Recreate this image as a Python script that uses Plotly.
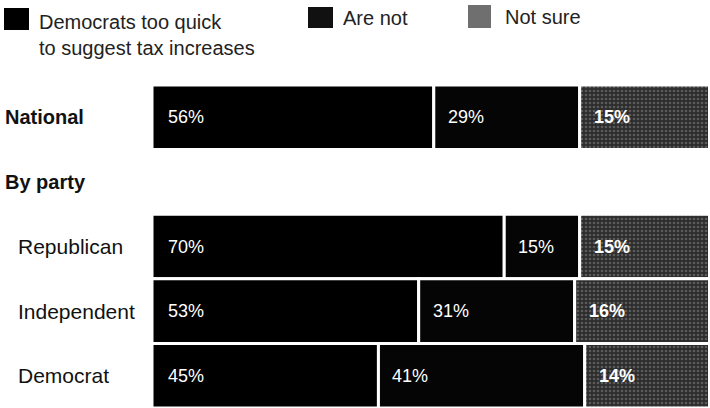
import plotly.graph_objects as go

groups = ["National", "Republican", "Independent", "Democrat"]
row_pos = [0, 2, 3, 4]
too_quick = [56, 70, 53, 45]
are_not = [29, 15, 31, 41]
not_sure = [15, 15, 16, 14]

section_labels = ["National", "By party"]
section_pos = [0, 1]
party_labels = ["Republican", "Independent", "Democrat"]
party_pos = [2, 3, 4]

legend_names = ["Democrats too quick<br>to suggest tax increases", "Are not", "Not sure"]
legend_colors = ["#000000", "#111111", "#6f6f6f"]

W, H = 710, 408
L, R, T, B = 152, 2, 85, 0
XMAX = 110.5
BLEED = 20  # gray block runs off the right edge like the print original
FONT = "Liberation Sans, Arial, sans-serif"
GRAY_PATTERN = dict(shape=".", bgcolor="#2c2c2c", fgcolor="#8c8c8c", size=4, solidity=0.35)


def px_x(px):
    return (px - L) / (W - L - R)


def px_y(py):
    return 1 - (py - T) / (H - T - B)


fig = go.Figure()

starts_2 = list(too_quick)
starts_3 = [a + b for a, b in zip(too_quick, are_not)]
bar_line = dict(color="white", width=3)

fig.add_bar(y=row_pos, x=too_quick, base=[0] * 4, orientation="h", width=1,
            marker=dict(color="#000000", line=bar_line), name=legend_names[0])
fig.add_bar(y=row_pos, x=are_not, base=starts_2, orientation="h", width=1,
            marker=dict(color="#050505", line=bar_line), name=legend_names[1])
fig.add_bar(y=row_pos, x=[v + BLEED for v in not_sure], base=starts_3, orientation="h", width=1,
            marker=dict(color="#444444", pattern=GRAY_PATTERN, line=bar_line), name=legend_names[2])

annotations = []
pct_font = dict(color="white", size=18, family=FONT)
for y, a, s2, s3, b, c in zip(row_pos, too_quick, starts_2, starts_3, are_not, not_sure):
    annotations.append(dict(x=0, y=y, text=f"{a}%", xanchor="left", xshift=14, showarrow=False, font=pct_font))
    annotations.append(dict(x=s2, y=y, text=f"{b}%", xanchor="left", xshift=12, showarrow=False, font=pct_font))
    annotations.append(dict(x=s3, y=y, text=f"<b>{c}%</b>", xanchor="left", xshift=12, showarrow=False,
                            font=pct_font))

for lab, y in zip(section_labels, section_pos):
    annotations.append(dict(x=px_x(3), xref="paper", y=y, text=f"<b>{lab}</b>", xanchor="left",
                            showarrow=False, font=dict(color="#111111", size=20, family=FONT)))
for lab, y in zip(party_labels, party_pos):
    annotations.append(dict(x=px_x(16), xref="paper", y=y, text=lab, xanchor="left",
                            showarrow=False, font=dict(color="#111111", size=21, family=FONT)))

# hand-built key, laid out like the print original
key_boxes = [(4, 29, 8, 30), (308, 333, 7, 28), (468, 491, 5, 28)]
key_text = [(37, 35), (341, 18), (503, 17)]
shapes = []
for (x0, x1, y0, y1), col, (tx, ty), name in zip(key_boxes, legend_colors, key_text, legend_names):
    shapes.append(dict(type="rect", xref="paper", yref="paper", x0=px_x(x0), x1=px_x(x1),
                       y0=px_y(y1), y1=px_y(y0), fillcolor=col, line=dict(width=0)))
    annotations.append(dict(xref="paper", yref="paper", x=px_x(tx), y=px_y(ty), text=name,
                            xanchor="left", yanchor="middle", align="left", showarrow=False,
                            font=dict(color="#222222", size=20, family=FONT)))

fig.update_layout(
    width=W, height=H,
    margin=dict(l=L, r=R, t=T, b=B),
    paper_bgcolor="white", plot_bgcolor="white",
    barmode="overlay",
    showlegend=False,
    hovermode=False,
    xaxis=dict(range=[0, XMAX], visible=False, fixedrange=True),
    yaxis=dict(range=[4.5, -0.5], visible=False, fixedrange=True),
    annotations=annotations,
    shapes=shapes,
    font=dict(family=FONT),
)

fig.write_html("out.html", config={"displayModeBar": False},
               post_script="document.body.style.margin='0';")
